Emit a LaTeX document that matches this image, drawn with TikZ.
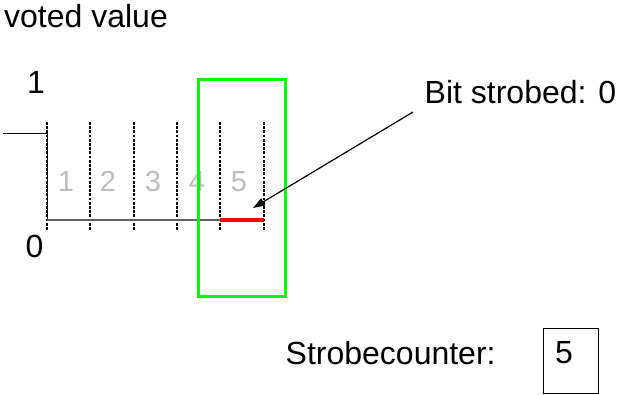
\documentclass[tikz,border=0pt]{standalone}
\usepackage{fontspec}
\setmainfont{Liberation Sans}
\usetikzlibrary{arrows.meta,positioning}
\definecolor{boxgreen}{HTML}{00FF00}
\definecolor{bitred}{HTML}{FF0000}
\definecolor{slotgray}{HTML}{BDBDBD}
\definecolor{levelgray}{HTML}{606060}
\tikzset{slot/.style={dash pattern=on 2.8pt off 1.4pt, line width=2pt}, lvl/.style={line width=1pt}, lab/.style={font=\fontsize{32}{38}\selectfont, inner sep=0pt}, num/.style={font=\fontsize{29}{34}\selectfont, text=slotgray, inner sep=0pt}, pointer/.style={-{Triangle[length=12pt,width=8pt]}, line width=1.2pt}}
\begin{document}
\begin{tikzpicture}[x=1pt,y=-1pt]
\useasboundingbox (0,0) rectangle (621,394);
\node[lab, anchor=base west] (title) at (4,27) {voted value};
\node[lab, anchor=base] (one) at (36,93) {1}; \node[lab, anchor=base] (zero) at (34.5,257) {0};
\foreach \i in {0,...,5}{\draw[slot] ({47+43.3*\i},122) -- ({47+43.3*\i},230);}
\foreach \n/\x in {1/66,2/108,3/153,4/197,5/239}{\node[num, anchor=base] (n\n) at (\x,191) {\n};}
\draw[lvl] (3,133) -- (47,133) -- (47,220);
\draw[levelgray, line width=1.5pt] (47,220) -- (220,220);
\draw[bitred, line width=3.5pt] (220.2,220) -- (263.5,220);
\draw[boxgreen, line width=3pt] (198,79) rectangle (285,296);
\node[lab, anchor=base west] (strobed) at (424.5,103) {Bit strobed: 0};
\coordinate (from) at (413,112); \coordinate (tip) at (253,208);
\draw[pointer] (from) -- (tip);
\node[lab, anchor=base west] (counter) at (285.5,364) {Strobecounter:};
\node[draw, line width=1pt, minimum width=55pt, minimum height=65pt, inner sep=0pt, anchor=north west] (box) at (543,328) {};
\node[lab, anchor=base west] (count) at (555,363.5) {5};
\end{tikzpicture}
\end{document}
